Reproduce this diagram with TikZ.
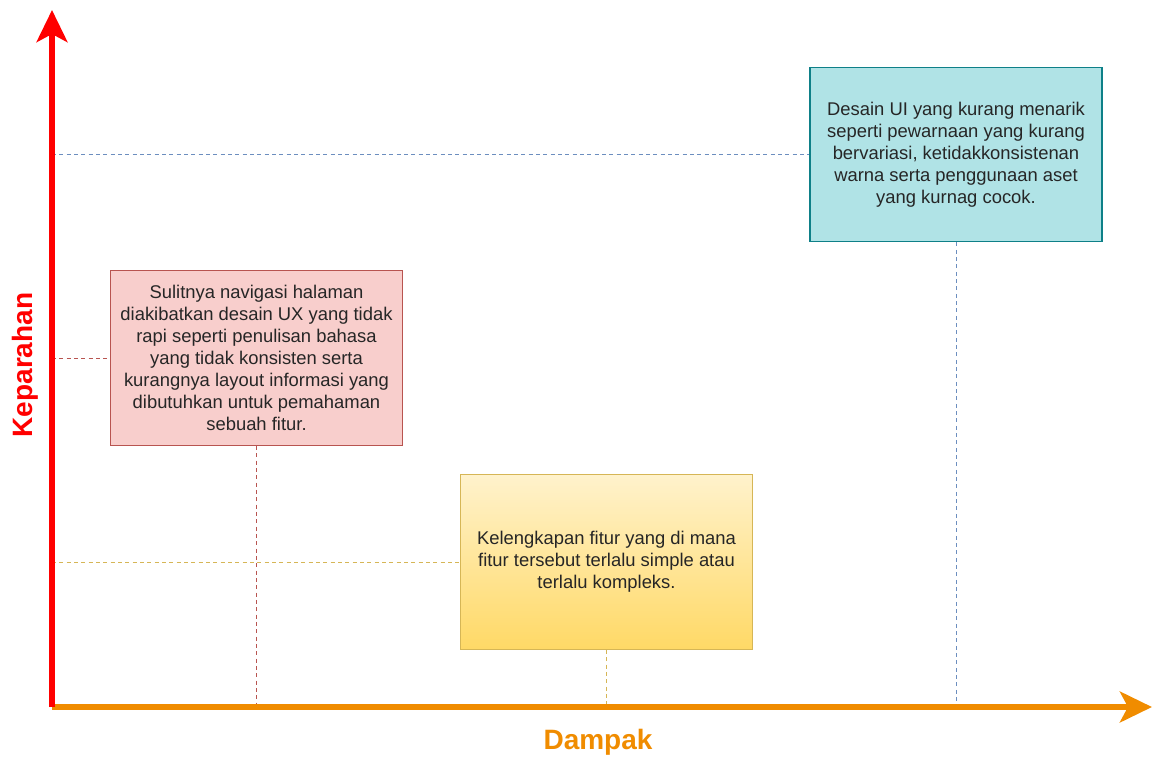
\documentclass[tikz,border=0pt]{standalone}
\usepackage{fontspec}
\setmainfont{Liberation Sans}
\usetikzlibrary{arrows.meta,positioning}
\definecolor{axR}{HTML}{FF0000}
\definecolor{axO}{HTML}{F08C00}
\definecolor{fillR}{HTML}{F8CECC}
\definecolor{lineR}{HTML}{B85450}
\definecolor{fillB}{HTML}{B0E3E6}
\definecolor{lineB}{HTML}{0E8088}
\definecolor{dashB}{HTML}{6C8EBF}
\definecolor{fillYa}{HTML}{FFF2CC}
\definecolor{fillYb}{HTML}{FFD966}
\definecolor{lineY}{HTML}{D6B656}
\tikzset{
  box/.style={ draw, line width=0.9pt, minimum width=219pt, minimum height=131pt,
    align=center, text=black!85, font=\fontsize{13.8pt}{16.5pt}\selectfont }
}
\tikzset{
  boxR/.style={ box, fill=fillR, draw=lineR },
  boxB/.style={ box, fill=fillB, draw=lineB },
  boxY/.style={ box, top color=fillYa, bottom color=fillYb, draw=lineY }
}
\tikzset{
  guide/.style={ line width=0.75pt, dash pattern=on 3pt off 2.5pt },
  axis/.style={ line width=4.5pt, -{Stealth[length=24pt, width=23pt, inset=6pt]} },
  axlabel/.style={ font=\fontsize{21pt}{25pt}\selectfont\bfseries }
}

\begin{document}
\begin{tikzpicture}[x=0.75pt, y=-0.75pt]
      \useasboundingbox (0,0) rectangle (1153,757);

      \coordinate (o) at (52, 707);
      \coordinate (top) at (52, 10);
      \coordinate (right) at (1152, 707);

      \node[boxR] (ux) at (256.5, 358) {Sulitnya navigasi halaman\\diakibatkan desain UX yang tidak\\rapi seperti penulisan bahasa\\yang tidak konsisten serta\\kurangnya layout informasi yang\\dibutuhkan untuk pemahaman\\sebuah fitur.};
      \node[boxB] (ui) at (956, 154.5) {Desain UI yang kurang menarik\\seperti pewarnaan yang kurang\\bervariasi, ketidakkonsistenan\\warna serta penggunaan aset\\yang kurnag cocok.};
      \node[boxY] (ft) at (606.5, 562) {Kelengkapan fitur yang di mana\\fitur tersebut terlalu simple atau\\terlalu kompleks.};

      \coordinate (uxL) at (o |- ux.west);
      \coordinate (uiL) at (o |- ui.west);
      \coordinate (ftL) at (o |- ft.west);
      \coordinate (uxB) at (ux.south |- o);
      \coordinate (uiB) at (ui.south |- o);
      \coordinate (ftB) at (ft.south |- o);

      \draw[guide, lineR] (uxL) -- (ux.west);
      \draw[guide, lineR] (ux.south) -- (uxB);
      \draw[guide, dashB] (uiL) -- (ui.west);
      \draw[guide, dashB] (ui.south) -- (uiB);
      \draw[guide, lineY] (ftL) -- (ft.west);
      \draw[guide, lineY] (ft.south) -- (ftB);

      \draw[axis, axO] (o) -- (right);
      \draw[axis, axR] (o) -- (top);

      \node[axlabel, text=axR, rotate=90] (sev) at (25, 365) {Keparahan};
      \node[axlabel, text=axO] (imp) at (598, 742) {Dampak};
    \end{tikzpicture}
\end{document}
